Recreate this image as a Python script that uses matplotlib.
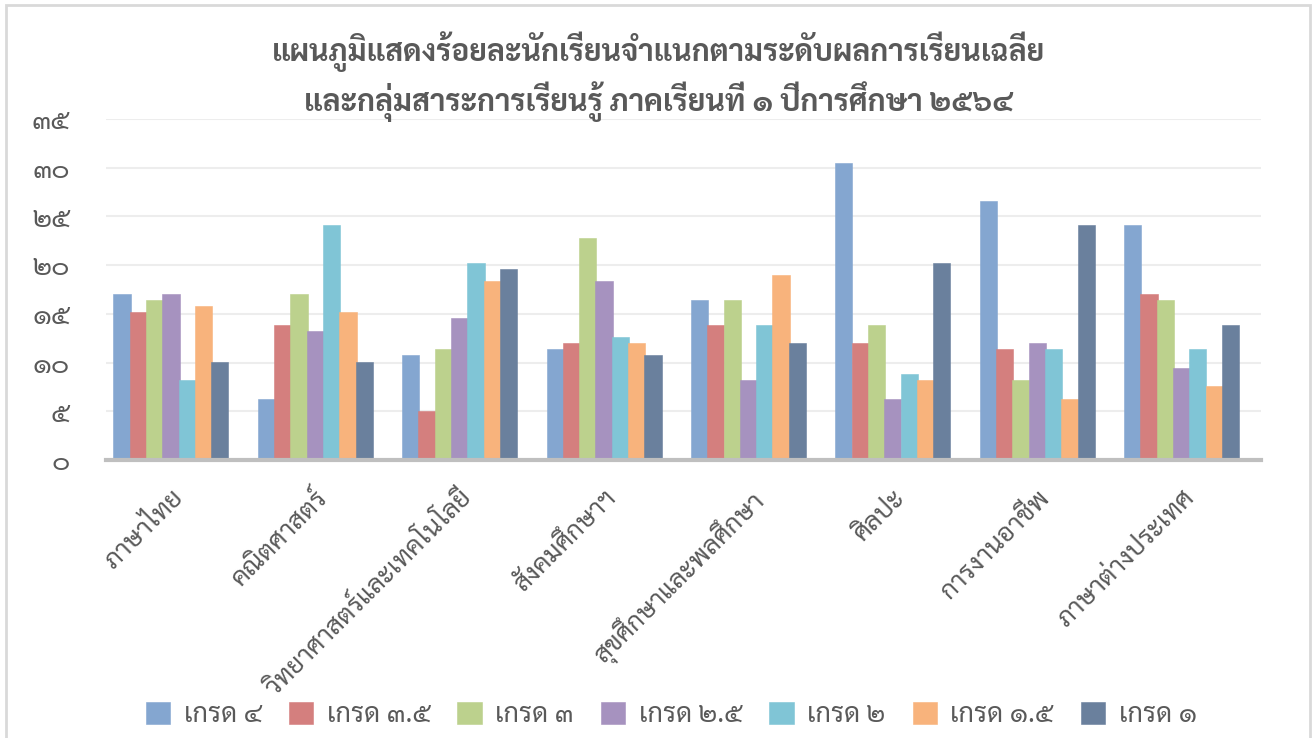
import numpy as np
import matplotlib.pyplot as plt
from matplotlib.patches import Rectangle

plt.rcParams['font.family'] = ['Sarabun', 'DejaVu Sans']

subjects = ['ภาษาไทย', 'คณิตศาสตร์', 'วิทยาศาสตร์และเทคโนโลยี', 'สังคมศึกษาฯ',
            'สุขศึกษาและพลศึกษา', 'ศิลปะ', 'การงานอาชีพ', 'ภาษาต่างประเทศ']
grades = ['เกรด ๔', 'เกรด ๓.๕', 'เกรด ๓', 'เกรด ๒.๕', 'เกรด ๒', 'เกรด ๑.๕', 'เกรด ๑']

g40 = [17.07, 6.27, 10.73, 11.38, 16.46, 30.44, 26.60, 24.07]
g35 = [15.20, 13.88, 5.00, 12.00, 13.88, 12.00, 11.38, 17.07]
g30 = [16.46, 17.07, 11.38, 22.80, 16.46, 13.88, 8.19, 16.46]
g25 = [17.07, 13.27, 14.57, 18.34, 8.19, 6.27, 12.00, 9.46]
g20 = [8.20, 24.07, 20.23, 12.65, 13.88, 8.84, 11.38, 11.38]
g15 = [15.80, 15.19, 18.38, 12.00, 19.03, 8.19, 6.27, 7.58]
g10 = [10.08, 10.08, 19.61, 10.73, 12.00, 20.23, 24.07, 13.88]
series = [g40, g35, g30, g25, g20, g15, g10]

colors = ['#84A6D0', '#D47F7E', '#BCD18D', '#A692BF', '#80C5D6', '#F8B37C', '#6A809D']
yticks = [0, 5, 10, 15, 20, 25, 30, 35]
ylabels = ['๐', '๕', '๑๐', '๑๕', '๒๐', '๒๕', '๓๐', '๓๕']

grey = '#595959'
fig = plt.figure(figsize=(13.16, 7.38), dpi=100)
ax = fig.add_axes([0.0805, 0.3767, 0.8777, 0.4621])

x = np.arange(len(subjects))
step = 0.113
for i, (vals, c) in enumerate(zip(series, colors)):
    ax.bar(x + (i - 3) * step, vals, width=0.119, color=c, label=grades[i],
           edgecolor=c, linewidth=0.4, zorder=3)

ax.set_xlim(-0.45, 7.55)
ax.set_ylim(0, 35)
ax.set_yticks(yticks)
ax.set_yticklabels(ylabels, fontsize=20, color=grey)
ax.set_xticks(x)
ax.set_xticklabels(subjects, fontsize=18.7, color=grey, rotation=45,
                   ha='right', rotation_mode='anchor')
ax.tick_params(axis='both', length=0)
ax.tick_params(axis='y', pad=26)
ax.tick_params(axis='x', pad=18)
ax.grid(axis='y', color='#EDEDED', linewidth=1.5, zorder=0)
for s in ['top', 'right', 'left']:
    ax.spines[s].set_visible(False)
ax.spines['bottom'].set_color('#BFBFBF')
ax.spines['bottom'].set_linewidth(3)
ax.spines['bottom'].set_zorder(4)

fig.text(0.5, 0.93, 'แผนภูมิแสดงร้อยละนักเรียนจำแนกตามระดับผลการเรียนเฉลี่ย',
         ha='center', va='center', fontsize=21.7, fontweight='bold', color=grey)
fig.text(0.5, 0.862, 'และกลุ่มสาระการเรียนรู้ ภาคเรียนที่ ๑ ปีการศึกษา ๒๕๖๔',
         ha='center', va='center', fontsize=21.7, fontweight='bold', color=grey)

fig.legend(loc='center', bbox_to_anchor=(0.51, 0.031), ncol=7, frameon=False,
           fontsize=19.5, handlelength=0.9, handleheight=0.9, handletextpad=0.5,
           columnspacing=1.0, labelcolor=grey)

fig.patches.append(Rectangle((0.0046, -0.05), 0.9905, 1.043, transform=fig.transFigure,
                             fill=False, edgecolor='#D9D9D9', linewidth=2))

fig.savefig('out.png', dpi=100)
